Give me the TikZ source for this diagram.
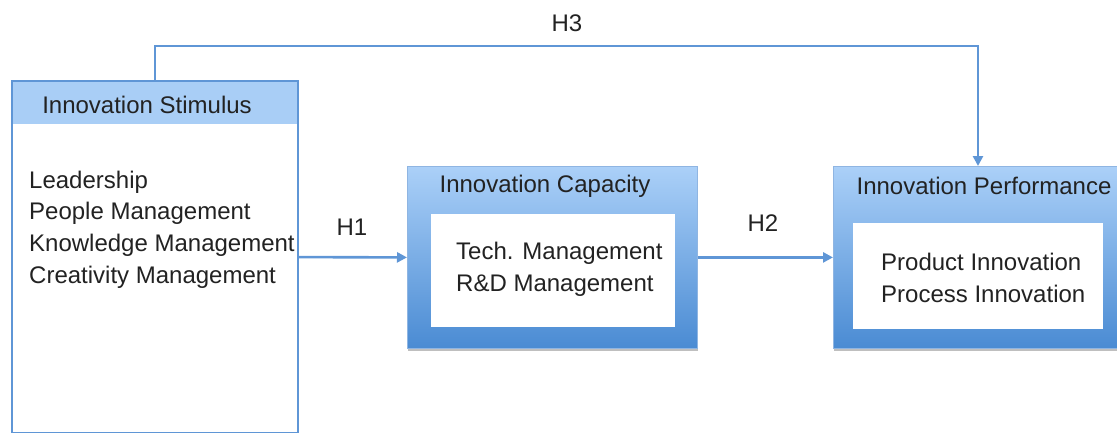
\documentclass[tikz,border=0pt]{standalone}
\usepackage{fontspec}
\setmainfont{Liberation Sans}
\usetikzlibrary{arrows.meta,shadows}
\definecolor{lineblue}{HTML}{5F96D6}
\definecolor{headblue}{HTML}{A9CEF6}
\definecolor{topblue}{HTML}{ABD0F8}
\definecolor{botblue}{HTML}{4A8BD3}
\definecolor{inktext}{HTML}{222222}
\tikzset{
  lbl/.style={font=\fontsize{24}{31.7}\selectfont, text=inktext, inner sep=0pt},
  listtext/.style={lbl, align=left, anchor=west},
  framebox/.style={draw=lineblue, line width=2.2pt, fill=white, inner sep=0pt, anchor=north west},
  gradbox/.style={draw=lineblue!70, line width=0.8pt, top color=topblue, bottom color=botblue,
    inner sep=0pt, anchor=north west,
    drop shadow={shadow xshift=1pt, shadow yshift=-2.5pt, opacity=0.25, fill=black}},
  whitebox/.style={fill=white, draw=none, inner sep=0pt, anchor=north west},
  arr/.style={draw=lineblue, line width=2.6pt, -{Triangle[length=10pt,width=10pt]}},
}
\begin{document}
\begin{tikzpicture}[x=1pt,y=-1pt]
\useasboundingbox (0,0) rectangle (1117,432);
\clip (0,0) rectangle (1117,432);

% Innovation Stimulus box with its header band
\node[framebox, minimum width=286pt, minimum height=352pt,
  path picture={\fill[headblue] (path picture bounding box.north west) rectangle ([yshift=-43pt]path picture bounding box.north east);}]
  (stim) at (11,80) {};
\node[lbl] (stimtitle) at (147,105) {Innovation Stimulus};
\node[listtext] (stimlist) at (29,229.5) {Leadership\\People Management\\Knowledge Management\\Creativity Management};

% Innovation Capacity box
\node[gradbox, minimum width=290pt, minimum height=182pt] (cap) at (407,166) {};
\node[whitebox, minimum width=244pt, minimum height=113pt] (capin) at (431,214) {};
\node[lbl] (captitle) at (545,186) {Innovation Capacity};
\node[listtext] (caplist) at (456,269) {Tech. Management\\R\&D Management};

% Innovation Performance box
\node[gradbox, minimum width=300pt, minimum height=182pt] (perf) at (833,166) {};
\node[whitebox, minimum width=250pt, minimum height=106pt] (perfin) at (853,223) {};
\node[lbl] (perftitle) at (984,186) {Innovation Performance};
\node[listtext] (perflist) at (881,278) {Product Innovation\\Process Innovation};

% Hypothesis links
\draw[arr] (stim.east) -- (cap.west);
\node[lbl] (h1) at (352,227) {H1};
\draw[arr] (cap.east) -- (perf.west);
\node[lbl] (h2) at (763,223) {H2};
\coordinate (h3turn) at (978,46);
\draw[arr] (stim.north) |- (h3turn) -- (h3turn |- perf.north);
\node[lbl] (h3) at (567,23) {H3};
\end{tikzpicture}
\end{document}
